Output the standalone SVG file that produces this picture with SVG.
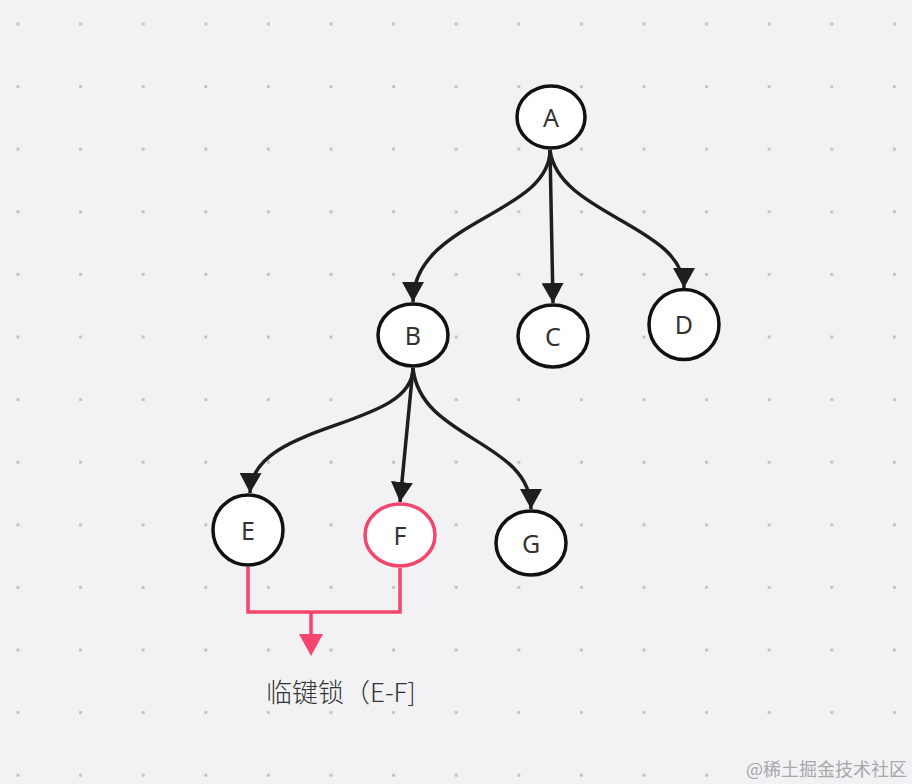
<svg xmlns="http://www.w3.org/2000/svg" width="912" height="784" viewBox="0 0 912 784">
<defs>
<pattern id="grid" x="16.5" y="22.5" width="62.6" height="62.6" patternUnits="userSpaceOnUse">
<rect x="0" y="0" width="3" height="3" fill="#c4c4c7"/>
</pattern>
<marker id="arr" markerUnits="userSpaceOnUse" markerWidth="24" markerHeight="22" refX="20" refY="11" orient="auto">
<path d="M0,0 L20,11 L0,22 Z" fill="#1e1e1e"/>
</marker>
<style>
.node ellipse{fill:#fff;stroke:#111;stroke-width:3.5}
.node.red ellipse{stroke:#f5456d}
.node text{font-family:"Noto Sans","Liberation Sans",sans-serif;font-size:25px;fill:#333;text-anchor:middle;dominant-baseline:central}
.edge{fill:none;stroke:#1e1e1e;stroke-width:3.5;marker-end:url(#arr)}
.red-edge{fill:none;stroke:#f5456d;stroke-width:3.5}
.label{font-family:"Noto Sans CJK SC","Noto Sans",sans-serif;font-size:26px;font-weight:300;fill:#333}
.wm{font-family:"Noto Sans CJK SC",sans-serif;font-size:18px;fill:#a8a8ab}
</style>
</defs>
<rect width="912" height="784" fill="#f2f2f4"/>
<rect width="912" height="784" fill="url(#grid)"/>
<g id="connectors">
<path class="edge" d="M550,150 C550,215 413,220 413,302"/>
<path class="edge" d="M550,150 L553,303"/>
<path class="edge" d="M550,150 C558,215 684,225 684,288"/>
<path class="edge" d="M413,368 C413,430 252,420 250,493"/>
<path class="edge" d="M413,368 L400,502"/>
<path class="edge" d="M413,368 C420,440 531,440 531,509"/>
<path class="red-edge" d="M248,567 L248,612 L400,612 L400,568"/>
<path class="red-edge" d="M311,612 L311,636"/>
<path d="M299,634 L323,634 L311,656 Z" fill="#f5456d"/>
</g>
<g id="node-A" class="node"><ellipse cx="551" cy="117" rx="34" ry="31"/><text x="551" y="117">A</text></g>
<g id="node-B" class="node"><ellipse cx="413" cy="335" rx="35" ry="31"/><text x="413" y="335">B</text></g>
<g id="node-C" class="node"><ellipse cx="553" cy="336" rx="35" ry="31"/><text x="553" y="336">C</text></g>
<g id="node-D" class="node"><ellipse cx="684" cy="324.5" rx="35" ry="35"/><text x="684" y="324">D</text></g>
<g id="node-E" class="node"><ellipse cx="248" cy="530" rx="35" ry="35"/><text x="248" y="530">E</text></g>
<g id="node-F" class="node red"><ellipse cx="400" cy="535" rx="35" ry="31"/><text x="400" y="535">F</text></g>
<g id="node-G" class="node"><ellipse cx="531" cy="543" rx="35" ry="32"/><text x="531" y="543">G</text></g>
<g id="label-lock"><text class="label" x="266" y="702">临键锁（E-F]</text></g>
<text class="wm" x="746" y="776">@稀土掘金技术社区</text>
</svg>
